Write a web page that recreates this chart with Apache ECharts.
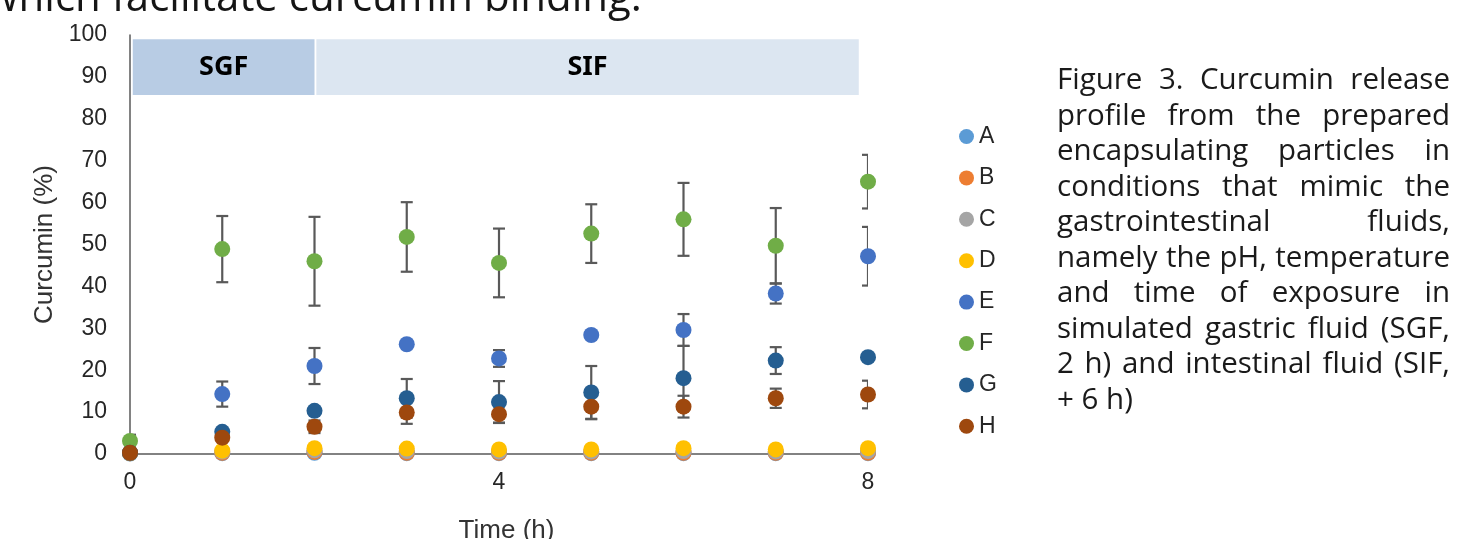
<!DOCTYPE html>
<html>
<head>
<meta charset="utf-8">
<title>Curcumin release</title>
<script src="https://cdn.jsdelivr.net/npm/echarts@6/dist/echarts.min.js"></script>
<style>
html, body { margin: 0; padding: 0; background: #fff; overflow: hidden; }
#chart { position: absolute; left: 0; top: 0; width: 1457px; height: 539px; }
#lead {
  position: absolute; left: -14px; top: -29px; white-space: nowrap;
  font-family: "Open Sans"; font-size: 42px; line-height: 48px; color: #151515;
}
#caption {
  position: absolute; left: 1057px; top: 60px; width: 393px;
  font-family: "Open Sans"; font-size: 29.5px; line-height: 35.5px; color: #1a1a1a;
}
#caption div { text-align: justify; text-align-last: justify; }
#caption div.last { text-align-last: left; }
</style>
</head>
<body>
<div id="chart"></div>
<div id="lead">which facilitate curcumin binding.</div>
<div id="caption">
  <div>Figure 3. Curcumin release</div>
  <div>profile from the prepared</div>
  <div>encapsulating particles in</div>
  <div>conditions that mimic the</div>
  <div>gastrointestinal fluids,</div>
  <div>namely the pH, temperature</div>
  <div>and time of exposure in</div>
  <div>simulated gastric fluid (SGF,</div>
  <div>2 h) and intestinal fluid (SIF,</div>
  <div class="last">+ 6 h)</div>
</div>
<script>
// time points (h)
var times = [0, 1, 2, 3, 4, 5, 6, 7, 8];
var xTicks = [0, 4, 8];

// curcumin release (%) per sample
var A = [0.1, 0.2, 0.3, 0.2, 0.2, 0.2, 0.2, 0.2, 0.2];
var B = [0.2, 0.3, 0.5, 0.3, 0.3, 0.3, 0.3, 0.3, 0.3];
var C = [0.2, 0.6, 0.9, 0.7, 0.6, 0.6, 0.7, 0.6, 0.7];
var D = [0.2, 0.8, 1.4, 1.3, 1.1, 1.1, 1.4, 1.1, 1.4];
var E = [0.3, 14.3, 21.0, 26.2, 22.8, 28.4, 29.6, 38.3, 47.2];
var F = [3.1, 48.9, 46.0, 51.8, 45.6, 52.6, 56.0, 49.7, 65.0];
var G = [0.3, 5.3, 10.3, 13.3, 12.4, 14.7, 18.1, 22.3, 23.1];
var H = [0.3, 3.9, 6.5, 9.9, 9.5, 11.3, 11.3, 13.3, 14.2];

// standard deviations (0 = no bar drawn)
var errE = [0, 3.0, 4.3, 0, 2.0, 0, 3.8, 2.4, 7.0];
var errF = [1.5, 7.9, 10.6, 8.3, 8.2, 7.0, 8.7, 9.0, 6.4];
var errG = [0, 0, 0, 4.6, 5.0, 6.3, 7.7, 3.2, 0];
var errH = [0, 0, 1.5, 2.7, 2.0, 3.0, 2.6, 2.3, 3.3];

// phase bands (x from, x to, y from, y to)
var phases = ['SGF', 'SIF'];
var phaseX = [[0.03, 2.0], [2.02, 7.9]];
var phaseY = [85.7, 99];

var names = ['A', 'B', 'C', 'D', 'E', 'F', 'G', 'H'];
var values = [A, B, C, D, E, F, G, H];
var colors = ['#5B9BD5', '#ED7D31', '#A5A5A5', '#FFC000', '#4472C4', '#70AD47', '#255E91', '#9E480E'];

var errSets = [[E, errE], [F, errF], [G, errG], [H, errH]];
var errData = [];
errSets.forEach(function (s) {
  s[0].forEach(function (v, i) {
    if (s[1][i] > 0) errData.push([times[i], v - s[1][i], v + s[1][i]]);
  });
});

function renderErr(params, api) {
  var x = api.value(0);
  var lo = api.coord([x, api.value(1)]);
  var hi = api.coord([x, api.value(2)]);
  var w = 6;
  var st = { stroke: '#595959', lineWidth: 2.2 };
  return {
    type: 'group',
    children: [
      { type: 'line', shape: { x1: lo[0], y1: lo[1], x2: hi[0], y2: hi[1] }, style: st },
      { type: 'line', shape: { x1: lo[0] - w, y1: lo[1], x2: lo[0] + w, y2: lo[1] }, style: st },
      { type: 'line', shape: { x1: hi[0] - w, y1: hi[1], x2: hi[0] + w, y2: hi[1] }, style: st }
    ]
  };
}

var series = names.map(function (n, k) {
  return {
    name: n,
    type: 'scatter',
    symbolSize: 16,
    z: 3,
    itemStyle: { color: colors[k], opacity: 1 },
    data: values[k].map(function (v, i) { return [times[i], v]; })
  };
});

series.push({
  type: 'custom',
  name: 'err',
  z: 2,
  clip: true,
  renderItem: renderErr,
  encode: { x: 0, y: [1, 2] },
  data: errData
});

// phase bands as a mark area on an empty scatter
series.push({
  type: 'scatter',
  name: 'phase',
  z: 1,
  data: [],
  markArea: {
    silent: true,
    label: {
      show: true, position: 'inside', color: '#000',
      fontFamily: 'Noto Sans', fontWeight: 'bold', fontSize: 27
    },
    data: phases.map(function (p, i) {
      return [
        { name: p, xAxis: phaseX[i][0], yAxis: phaseY[0],
          itemStyle: { color: i === 0 ? '#B8CCE4' : '#DCE6F1' } },
        { xAxis: phaseX[i][1], yAxis: phaseY[1] }
      ];
    })
  }
});

var chart = echarts.init(document.getElementById('chart'));
chart.setOption({
  animation: false,
  textStyle: { fontFamily: 'Liberation Sans' },
  grid: { left: 130, right: 589, top: 35, bottom: 85, outerBoundsMode: 'none' },
  legend: {
    orient: 'vertical',
    left: 954,
    top: 120,
    data: names,
    icon: 'circle',
    itemWidth: 15,
    itemHeight: 15,
    itemGap: 18.4,
    textStyle: { fontFamily: 'Liberation Sans', fontSize: 23, color: '#262626', lineHeight: 23 }
  },
  xAxis: {
    type: 'value',
    min: 0,
    max: 8,
    interval: 4,
    name: 'Time (h)',
    nameLocation: 'middle',
    nameGap: 64,
    nameTextStyle: { fontSize: 26, color: '#333', fontFamily: 'Liberation Sans', padding: [0, 0, 0, 15] },
    axisLine: { show: true, lineStyle: { color: '#595959', width: 1.5 } },
    axisTick: { show: false },
    splitLine: { show: false },
    axisLabel: {
      fontSize: 23, color: '#262626', margin: 17,
      formatter: function (v) { return xTicks.indexOf(v) >= 0 ? String(v) : ''; }
    }
  },
  yAxis: {
    type: 'value',
    min: 0,
    max: 100,
    interval: 10,
    name: 'Curcumin (%)',
    nameLocation: 'middle',
    nameRotate: 90,
    nameGap: 71,
    nameTextStyle: { fontSize: 26, color: '#333', fontFamily: 'Liberation Sans' },
    axisLine: { show: true, lineStyle: { color: '#595959', width: 1.5 } },
    axisTick: { show: false },
    splitLine: { show: false },
    axisLabel: { fontSize: 23, color: '#262626', margin: 23 }
  },
  series: series
});
</script>
</body>
</html>
